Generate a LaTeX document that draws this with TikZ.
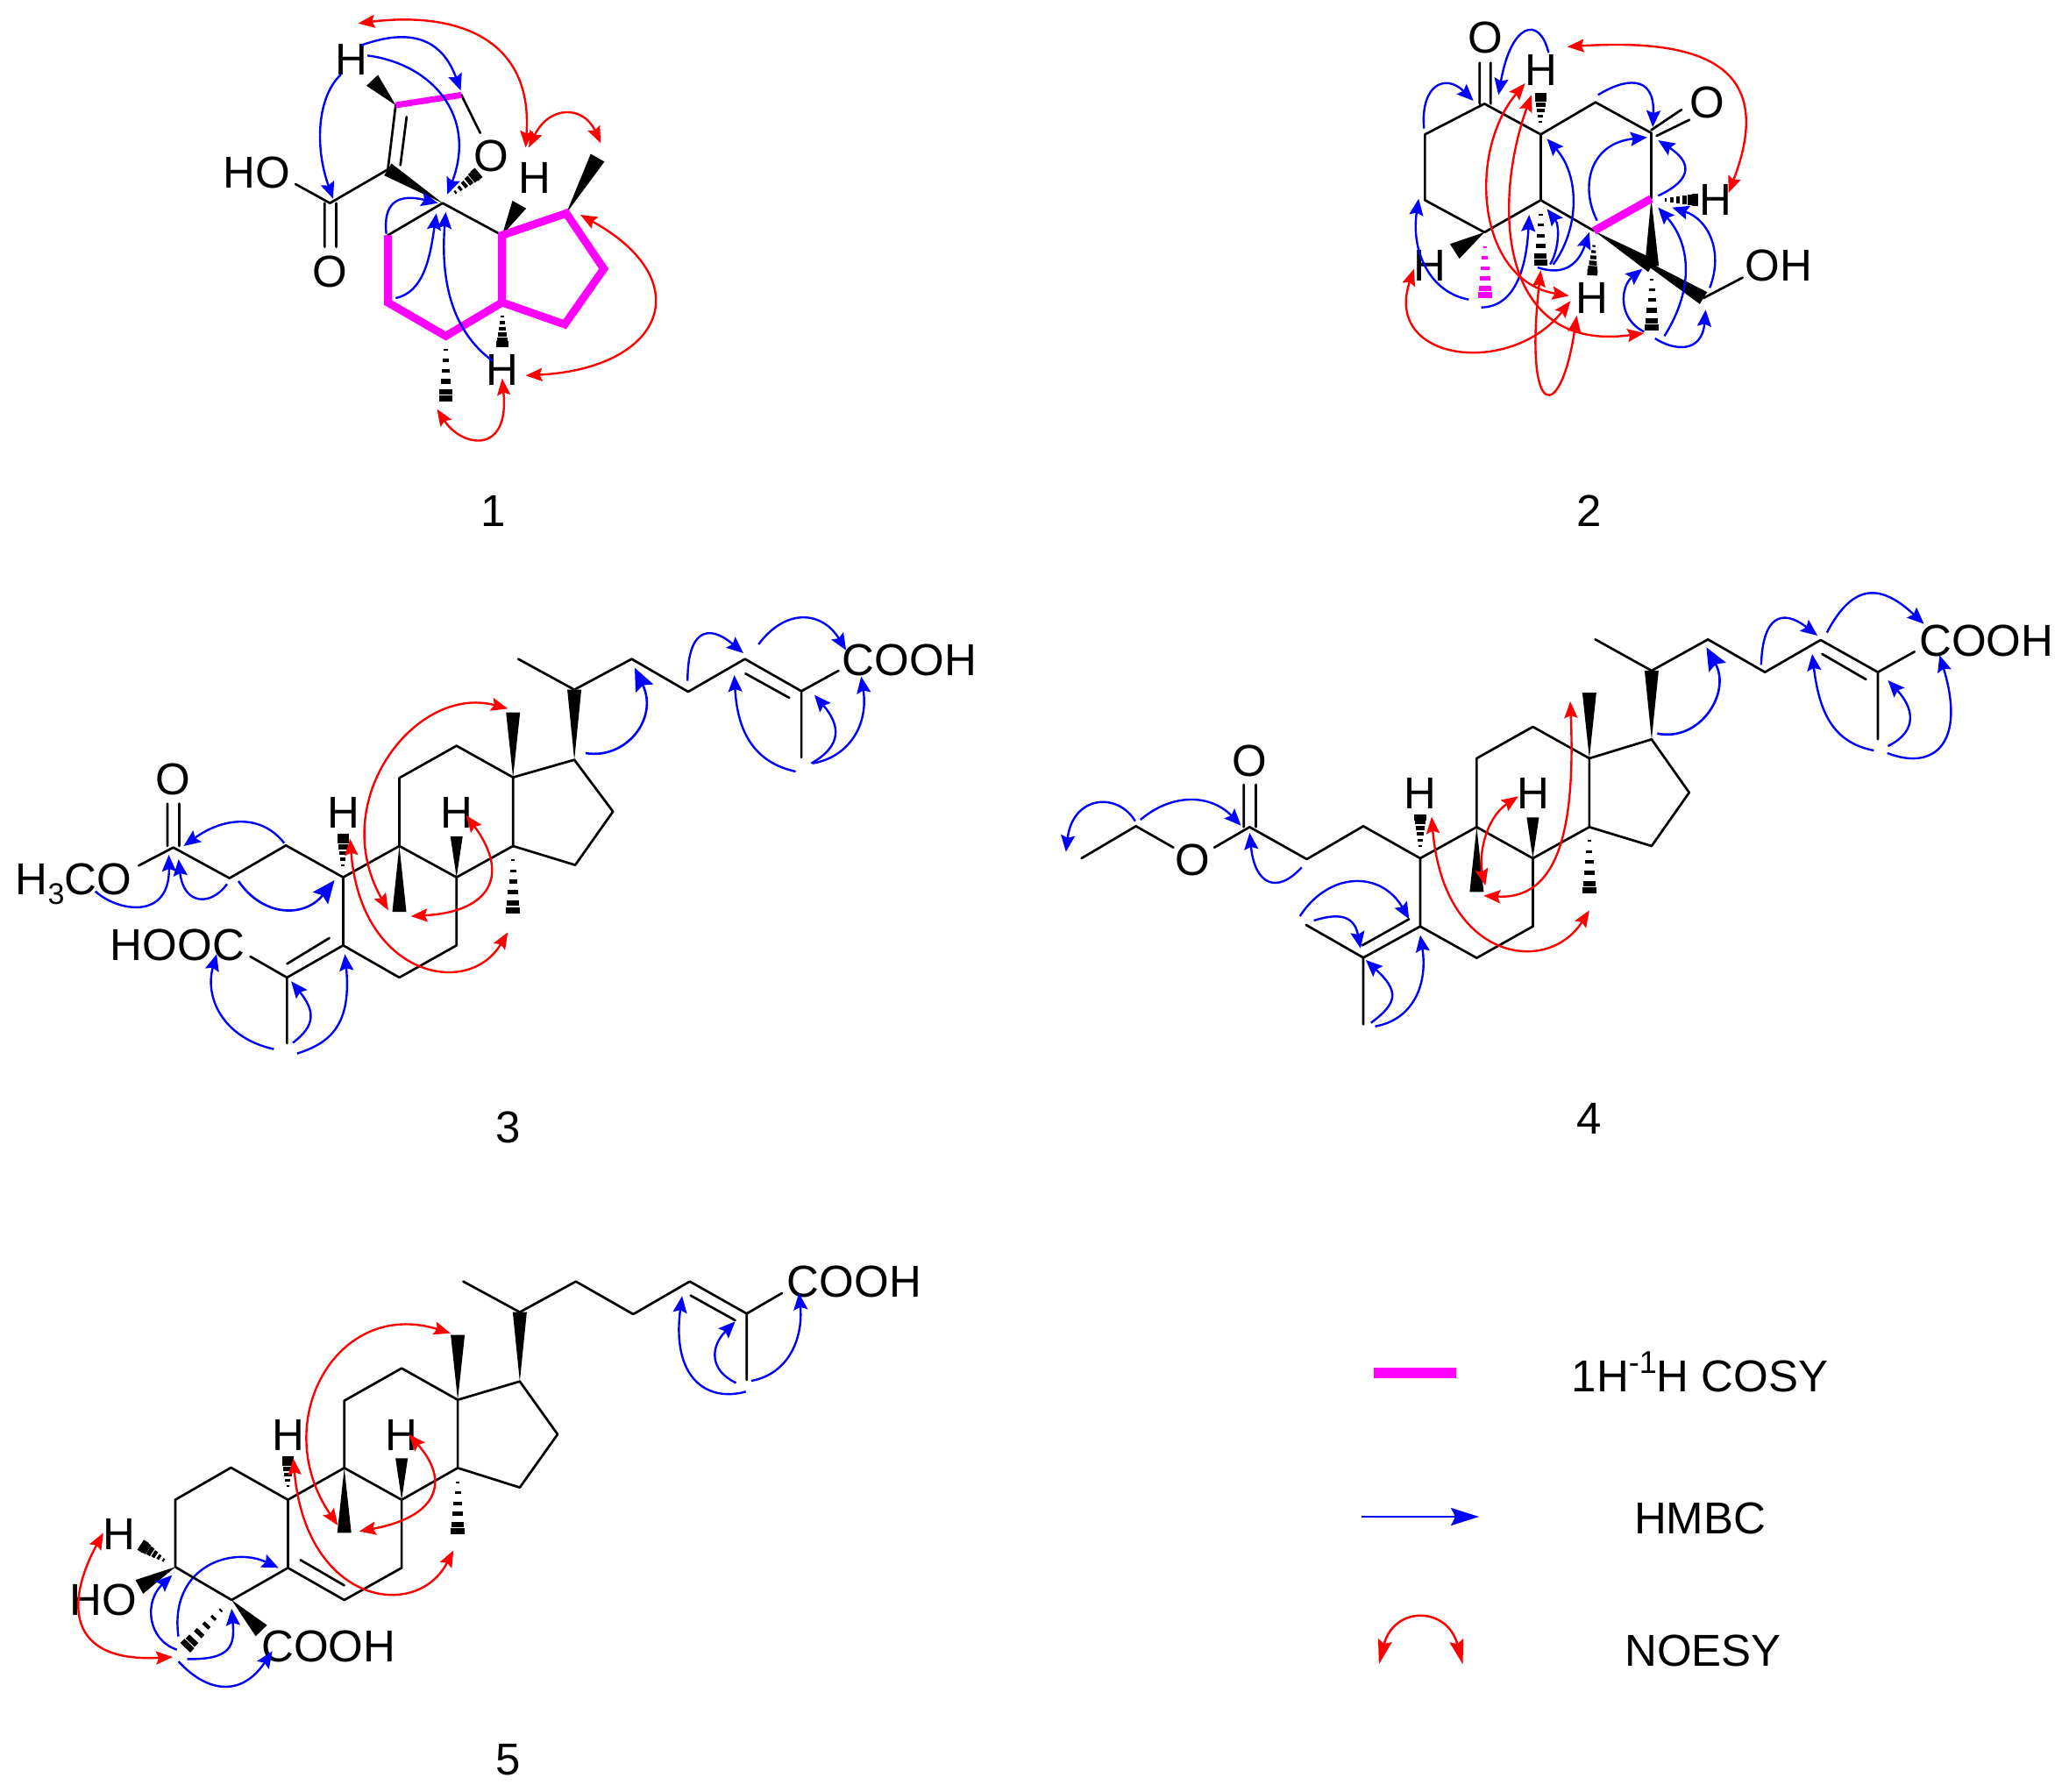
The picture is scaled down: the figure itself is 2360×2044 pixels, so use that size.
\documentclass[tikz,border=0pt]{standalone}
\usepackage{fontspec}
\setmainfont{Liberation Sans}
\usetikzlibrary{calc,arrows.meta}
\definecolor{cosy}{RGB}{255,0,255}
\tikzset{
  zs/.style n args={3}{shift={(#1pt,-#2pt)},x=#3pt,y=-0.33333pt},
  bond/.style={draw=black,line width=2.7pt,line cap=round,line join=round},
  pinkbond/.style={draw=cosy,line width=9pt,line join=miter,line cap=butt},
  lbl/.style={font=\fontsize{51}{60}\selectfont,inner sep=0pt,text=black},
  hmbc/.style={draw=blue,line width=2.4pt,-{Stealth[length=19pt,width=16pt,inset=3pt]}},
  hmbcb/.style={draw=blue,line width=2.6pt,-{Stealth[length=26pt,width=22pt,inset=4pt]}},
  noe/.style={draw=red,line width=2.4pt,{Stealth[length=19pt,width=15pt,inset=3pt]}-{Stealth[length=19pt,width=15pt,inset=3pt]}}
}
\newcommand\atm[3]{\coordinate (#1) at (#2,#3);}
\newcommand\wedgebond[3]{\fill[black] (#1) -- ($(#2)!#3pt!90:(#1)$) -- ($(#2)!#3pt!-90:(#1)$) -- cycle;}
\newcommand\hashbond[4][black]{\foreach \tval in {0.04,0.24,0.44,0.64,0.84,0.97}{%
  \pgfmathsetmacro\hwd{#4*(0.25+0.75*\tval)}\pgfmathsetmacro\lwd{2+5*\tval}%
  \coordinate (hc) at ($(#2)!\tval!(#3)$);%
  \draw[draw=#1,line width=\lwd pt] ($(hc)!\hwd pt!90:(#3)$) -- ($(hc)!\hwd pt!-90:(#3)$);}}
\newcommand\hmarc[4]{\draw[hmbc] (#1) .. controls (#2) and (#3) .. (#4);}
\newcommand\hmbig[4]{\draw[hmbcb] (#1) .. controls (#2) and (#3) .. (#4);}
\newcommand\noearc[4]{\draw[noe] (#1) .. controls (#2) and (#3) .. (#4);}
\begin{document}
\begin{tikzpicture}[x=1pt,y=-1pt]
\useasboundingbox (0,0) rectangle (2360,2044);
\fill[white] (0,0) rectangle (2360,2044);

% ---------- compound 1
\begin{scope}[zs={230}{0}{0.357}]
\atm{aa}{770}{695}\atm{ab}{595}{580}\atm{ac}{620}{360}\atm{ad}{830}{325}\atm{ae}{410}{695}
\atm{af}{595}{805}\atm{ag}{595}{1035}\atm{ah}{780}{1150}\atm{ai}{960}{1035}\atm{aj}{960}{805}
\atm{ak}{1165}{730}\atm{al}{1285}{920}\atm{am}{1160}{1110}
\atm{ao}{890}{455}\atm{ahoe}{300}{630}\atm{aia}{655}{400}\atm{aib}{635}{565}
\atm{aoa}{393}{695}\atm{aob}{393}{845}\atm{aoc}{430}{695}\atm{aod}{430}{845}
\node[lbl] (aO) at (925,535) {O};
\node[lbl] (aHO) at (175,590) {HO};
\node[lbl] (aOb) at (410,930) {O};
\node[lbl] (aHa) at (480,205) {H};
\node[lbl] (aHb) at (1065,610) {H};
\node[lbl] (aHc) at (960,1265) {H};
\draw[bond] (ae)--(ab)--(ac) (aia)--(aib) (ad)--(ao) (ae)--(ahoe) (aoa)--(aob) (aoc)--(aod) (aa)--(aj) (aa)--(af);
\wedgebond{aa}{ab}{8}\wedgebond{ac}{545,275}{9}\wedgebond{aj}{1015,700}{9}\wedgebond{ak}{1265,540}{9}
\hashbond{780,1190}{780,1370}{8}\hashbond{960,1080}{960,1180}{7}\hashbond{808,660}{880,595}{7}
\draw[pinkbond,line width=7pt] (ac)--(ad);
\draw[pinkbond] (af)--(ag)--(ah)--(ai)--(aj)--(ak)--(al)--(am)--(ai);
\hmarc{510,155}{640,105}{760,110}{828,310}
\hmarc{530,190}{740,220}{880,400}{785,665}
\hmarc{445,255}{370,330}{360,500}{420,680}
\hmarc{590,800}{580,700}{620,660}{755,695}
\hmarc{620,1020}{710,1000}{730,880}{750,730}
\hmarc{930,1235}{820,1150}{760,1000}{780,725}
\noearc{500,80}{800,40}{1060,120}{1035,505}
\noearc{1045,505}{1110,360}{1220,360}{1275,490}
\noearc{1210,735}{1590,960}{1480,1260}{1035,1285}
\noearc{960,1295}{985,1560}{830,1530}{752,1400}
\end{scope}
\node[lbl] (n1) at (563,583) {1};

% ---------- compound 2
\begin{scope}[zs={1570}{0}{0.357}]
\atm{ba}{345}{355}\atm{bb}{155}{460}\atm{bc}{155}{685}\atm{bd}{345}{795}\atm{be}{525}{685}
\atm{bf}{525}{460}\atm{bg}{700}{350}\atm{bh}{878}{455}\atm{bi}{878}{680}\atm{bj}{695}{790}
\atm{bk}{880}{910}\atm{bl}{1045}{1020}\atm{bo}{1170}{950}
\atm{bca}{330}{215}\atm{bcb}{330}{355}\atm{bcc}{365}{215}\atm{bcd}{365}{355}
\atm{bda}{878}{445}\atm{bdb}{975}{375}\atm{bdc}{895}{465}\atm{bdd}{1000}{410}
\coordinate (bkn) at ($(bj)!0.6!(bk)$);
\node[lbl] (bO) at (348,130) {O};
\node[lbl] (bOb) at (1058,350) {O};
\node[lbl] (bHa) at (525,240) {H};
\node[lbl] (bHb) at (1085,685) {H};
\node[lbl] (bHc) at (170,910) {H};
\node[lbl] (bHd) at (690,1020) {H};
\node[lbl] (bOH) at (1285,910) {OH};
\draw[bond] (ba)--(bb)--(bc)--(bd)--(be)--(bf)--(ba) (bf)--(bg)--(bh)--(bi) (be)--(bj) (bl)--(bo)
 (bca)--(bcb) (bcc)--(bcd) (bda)--(bdb) (bdc)--(bdd);
\wedgebond{bd}{250,860}{10}\wedgebond{bi}{bk}{8}\wedgebond{bj}{bk}{8}\wedgebond{bkn}{bl}{8}
\hashbond{525,420}{525,325}{7}\hashbond{525,728}{525,905}{8}\hashbond{695,838}{690,935}{6}
\hashbond{920,685}{1020,685}{7}\hashbond{880,950}{880,1125}{8}\hashbond[cosy]{347,840}{347,1015}{8}
\draw[pinkbond] (bj)--(bi);
\hmarc{550,180}{520,50}{430,80}{390,325}
\hmarc{152,440}{140,290}{220,250}{310,345}
\hmarc{708,325}{790,270}{890,250}{883,435}
\hmarc{705,755}{650,640}{680,490}{865,470}
\hmarc{900,670}{1020,610}{1000,550}{900,480}
\hmarc{565,905}{650,780}{650,600}{545,475}
\hmarc{555,905}{585,850}{585,770}{545,715}
\hmarc{515,915}{610,950}{650,890}{680,795}
\hmarc{335,1052}{450,1050}{480,900}{488,735}
\hmarc{295,1025}{170,1000}{110,860}{135,680}
\hmarc{855,1135}{770,1090}{780,980}{850,920}
\hmarc{920,1150}{1020,980}{1000,830}{900,710}
\hmarc{1065,985}{1110,860}{1060,750}{945,710}
\hmarc{890,1158}{950,1200}{1040,1210}{1052,1060}
\noearc{610,160}{1050,130}{1280,230}{1125,660}
\noearc{475,285}{290,520}{320,960}{615,1012}
\noearc{495,325}{370,700}{390,1210}{855,1140}
\noearc{120,920}{20,1240}{430,1290}{620,1030}
\noearc{525,925}{470,1450}{590,1450}{640,1080}
\end{scope}
\node[lbl] (n2) at (1813,583) {2};

% ---------- compound 3
\begin{scope}[zs={0}{730}{0.3954}]
\atm{ca}{500}{710}\atm{cb}{662}{815}\atm{cc}{825}{703}\atm{cd}{990}{812}\atm{ce}{1152}{705}
\atm{cf}{1317}{812}\atm{cg}{1480}{705}\atm{ch}{1480}{470}\atm{ci}{1317}{362}\atm{cj}{1152}{472}
\atm{ck}{990}{1045}\atm{cl}{828}{1155}\atm{cm}{1152}{1155}\atm{cn}{1317}{1045}
\atm{cme}{828}{1380}\atm{cho}{722}{1083}\atm{cmo}{400}{772}
\atm{coa}{483}{560}\atm{cob}{483}{705}\atm{coc}{517}{560}\atm{cod}{517}{705}
\atm{cia}{828}{1108}\atm{cib}{950}{1020}\atm{dme}{1495}{65}
\node[lbl] (cO) at (500,478) {O};
\node[lbl] (cMeO) at (212,835) {H\raisebox{-0.22em}{\fontsize{34}{34}\selectfont 3}CO};
\node[lbl] (cHOOC) at (512,1045) {HOOC};
\node[lbl] (cHa) at (990,590) {H};
\node[lbl] (cHb) at (1317,590) {H};
\draw[bond] (ca)--(cb)--(cc)--(cd)--(ce)--(cf)--(cg)--(ch)--(ci)--(cj)--(ce)
 (cd)--(ck)--(cl)--(cme) (ck)--(cm)--(cn)--(cf) (cl)--(cho) (ca)--(cmo)
 (coa)--(cob) (coc)--(cod) (cia)--(cib);
\wedgebond{ce}{1152,930}{8}\wedgebond{cf}{1317,672}{7}\wedgebond{ch}{1480,248}{8}
\hashbond{990,775}{990,670}{7}\hashbond{1480,745}{1480,930}{8}
\hmarc{820,695}{750,590}{640,610}{530,705}
\hmarc{275,860}{340,930}{490,960}{487,735}
\hmarc{655,835}{610,910}{530,910}{515,750}
\hmbig{688,825}{760,950}{880,950}{965,822}
\hmarc{790,1400}{640,1360}{590,1220}{625,1075}
\hmarc{845,1378}{910,1320}{910,1270}{840,1168}
\hmarc{857,1415}{950,1380}{1015,1320}{995,1075}
\noearc{1465,235}{1200,150}{940,550}{1120,925}
\noearc{1010,680}{1040,1150}{1350,1230}{1465,1000}
\noearc{1345,600}{1470,800}{1420,930}{1185,945}
\end{scope}
\begin{scope}[zs={600}{660}{0.3444}]
\atm{da}{160}{380}\atm{dc}{350}{275}\atm{dd}{537}{387}\atm{de}{725}{275}\atm{df}{912}{385}
\atm{dg}{912}{612}\atm{dh}{1035}{315}\atm{dia}{727}{325}\atm{dib}{872}{408}
\atm{dj}{160}{620}\atm{dk}{288}{797}\atm{dl}{163}{980}
\node[lbl] (dCOOH) at (1270,280) {COOH};
\draw[bond] (dme)--(da)--(dc)--(dd)--(de)--(df)--(dg) (df)--(dh) (dia)--(dib)
 (ch)--(dj)--(dk)--(dl)--(cg);
\wedgebond{dj}{da}{8}
\hmbig{197,597}{330,620}{440,480}{360,305}
\hmarc{535,350}{535,180}{600,150}{720,255}
\hmarc{770,225}{860,100}{980,110}{1060,245}
\hmarc{893,660}{760,630}{700,530}{690,330}
\hmarc{945,632}{1050,570}{1040,500}{955,398}
\hmarc{950,632}{1070,610}{1135,500}{1110,335}
\end{scope}
\node[lbl] (n3) at (580,1286) {3};

% ---------- compound 4
\begin{scope}[zs={1200}{780}{0.3954}]
\atm{ea}{570}{490}\atm{eb}{735}{600}\atm{ec}{898}{487}\atm{ed}{1062}{597}\atm{ee}{1225}{490}
\atm{ef}{1387}{597}\atm{eg}{1550}{490}\atm{eh}{1550}{255}\atm{ei}{1387}{147}\atm{ej}{1225}{255}
\atm{ek}{1062}{830}\atm{el}{898}{937}\atm{em}{1225}{938}\atm{en}{1387}{830}
\atm{ep}{242}{487}\atm{eq}{85}{597}\atm{eoa}{350}{560}\atm{eob}{468}{560}
\atm{eca}{553}{345}\atm{ecb}{553}{490}\atm{ecc}{588}{345}\atm{ecd}{588}{490}
\atm{ema}{733}{825}\atm{emb}{898}{1165}\atm{eia}{895}{895}\atm{eib}{1030}{805}
\node[lbl] (eO) at (405,603) {O};
\node[lbl] (eOb) at (570,265) {O};
\node[lbl] (eHa) at (1062,375) {H};
\node[lbl] (eHb) at (1387,375) {H};
\draw[bond] (eq)--(ep)--(eoa) (eob)--(ea)--(eb)--(ec)--(ed)--(ee)--(ef)--(eg)--(eh)--(ei)--(ej)--(ee)
 (ed)--(ek)--(el)--(ema) (el)--(emb) (ek)--(em)--(en)--(ef) (eca)--(ecb) (ecc)--(ecd) (eia)--(eib);
\wedgebond{ee}{1225,712}{8}\wedgebond{ef}{1387,457}{7}\wedgebond{eh}{1550,30}{8}
\hashbond{1062,560}{1062,455}{7}\hashbond{1550,530}{1550,712}{8}
\hmarc{240,470}{190,370}{60,380}{40,575}
\hmarc{255,465}{350,370}{460,380}{545,485}
\hmarc{720,628}{650,720}{585,690}{570,510}
\hmarc{715,795}{800,640}{950,640}{1030,805}
\hmarc{755,810}{810,790}{870,780}{890,905}
\hmarc{920,1160}{1000,1090}{1000,1050}{905,945}
\hmarc{932,1172}{1040,1150}{1085,1030}{1062,860}
\noearc{1495,60}{1510,500}{1460,740}{1245,725}
\noearc{1345,385}{1250,460}{1230,590}{1250,690}
\noearc{1095,455}{1130,950}{1430,1000}{1550,775}
\end{scope}
\begin{scope}[zs={1800}{660}{0.357}]
\atm{fa}{235}{315}\atm{fb}{55}{208}\atm{fc}{415}{208}\atm{fd}{597}{320}\atm{fe}{775}{210}
\atm{ff}{958}{320}\atm{fg}{958}{550}\atm{fh}{1075}{250}\atm{fia}{780}{258}\atm{fib}{920}{345}
\atm{fj}{235}{550}\atm{fk}{355}{732}\atm{fl}{235}{915}
\node[lbl] (fCOOH) at (1305,213) {COOH};
\draw[bond] (fb)--(fa)--(fc)--(fd)--(fe)--(ff)--(fg) (ff)--(fh) (fia)--(fib)
 (eh)--(fj)--(fk)--(fl)--(eg);
\wedgebond{fj}{fa}{8}
\hmbig{253,530}{390,560}{490,390}{410,235}
\hmarc{585,295}{590,130}{650,100}{765,195}
\hmarc{795,185}{880,10}{970,20}{1105,155}
\hmarc{945,588}{810,560}{770,450}{748,258}
\hmarc{990,573}{1090,520}{1070,440}{990,348}
\hmarc{988,597}{1140,660}{1240,560}{1155,262}
\end{scope}
\node[lbl] (n4) at (1813,1276) {4};

% ---------- compound 5
\begin{scope}[zs={50}{1560}{0.357}]
\atm{ga}{420}{682}\atm{gb}{420}{452}\atm{gc}{598}{342}\atm{gd}{780}{452}\atm{ge}{780}{685}
\atm{gf}{600}{795}\atm{gia}{820}{658}\atm{gib}{960}{745}
\node[lbl] (gH) at (240,570) {H};
\node[lbl] (gHO) at (190,795) {HO};
\node[lbl] (gCOOH) at (910,955) {COOH};
\node[lbl] (gHa) at (780,230) {H};
\node[lbl] (gHb) at (1142,230) {H};
\wedgebond{ga}{305,750}{9}\wedgebond{gf}{695,900}{9}
\hashbond{385,660}{315,610}{7}\hashbond{570,825}{455,955}{8}\hashbond{780,410}{780,310}{7}
\hmarc{425,965}{330,930}{320,800}{410,710}
\hmarc{430,920}{400,680}{600,610}{750,685}
\hmarc{458,997}{600,1000}{610,950}{600,825}
\hmarc{430,1005}{520,1110}{630,1130}{730,970}
\noearc{190,565}{70,800}{70,1010}{412,990}
\end{scope}
\begin{scope}[zs={320}{1430}{0.4847}]
\atm{gj}{150}{733}\atm{gk}{150}{503}\atm{gl}{285}{392}\atm{gm}{417}{500}\atm{gn}{417}{733}
\atm{gi}{285}{842}\atm{gh}{285}{1075}\atm{gg}{150}{1185}
\atm{go}{563}{437}\atm{gp}{563}{800}\atm{gq}{652}{618}
\atm{ha}{563}{200}\atm{hb}{430}{95}\atm{hc}{695}{95}\atm{hd}{830}{207}\atm{he}{963}{95}
\atm{hf}{1097}{205}\atm{hg}{1097}{432}\atm{hh}{1180}{135}\atm{hia}{965}{143}\atm{hib}{1070}{228}
\node[lbl] (hCOOH) at (1350,97) {COOH};
\draw[bond] (ga)--(gb)--(gc)--(gd)--(ge)--(gf)--(ga) (ge)--(gg)--(gh)--(gi)--(gj)--(gd) (gia)--(gib)
 (gj)--(gk)--(gl)--(gm)--(gn)--(gi) (gm)--(go)--(gq)--(gp)--(gn)
 (hb)--(ha)--(hc)--(hd)--(he)--(hf)--(hg) (hf)--(hh) (hia)--(hib);
\wedgebond{go}{ha}{8}\wedgebond{gm}{417,278}{8}\wedgebond{gj}{150,955}{8}\wedgebond{gi}{285,700}{7}
\hashbond{417,775}{417,955}{8}
\hmarc{1095,472}{1000,510}{920,420}{945,145}
\hmarc{1072,442}{1010,400}{1010,320}{1070,232}
\hmarc{1108,435}{1200,410}{1230,280}{1220,135}
\noearc{400,272}{130,150}{-30,580}{135,930}
\noearc{30,700}{60,1200}{320,1260}{407,1015}
\noearc{302,618}{400,780}{370,900}{185,950}
\end{scope}
\node[lbl] (n5) at (580,2007) {5};

% ---------- legend
\begin{scope}[zs={1540}{1530}{0.357}]
\atm{la}{75}{108}\atm{lb}{340}{108}\atm{lc}{35}{600}\atm{ld}{412}{600}
\atm{le}{92}{1105}\atm{lf}{360}{1105}
\node[lbl] (lCOSY) at (1118,105) {1H\raisebox{0.42em}{\fontsize{36}{36}\selectfont -1}H COSY};
\node[lbl] (lHMBC) at (1118,605) {HMBC};
\node[lbl] (lNOESY) at (1128,1060) {NOESY};
\draw[draw=cosy,line width=12pt] (la)--(lb);
\draw[draw=blue,line width=2.5pt,-{Stealth[length=32pt,width=20pt,inset=5pt]}] (lc)--(ld);
\draw[draw=red,line width=2.5pt,{Stealth[length=28pt,width=16pt,inset=4pt]}-{Stealth[length=28pt,width=16pt,inset=4pt]}] (le) .. controls (140,905) and (310,905) .. (lf);
\end{scope}
\end{tikzpicture}
\end{document}
